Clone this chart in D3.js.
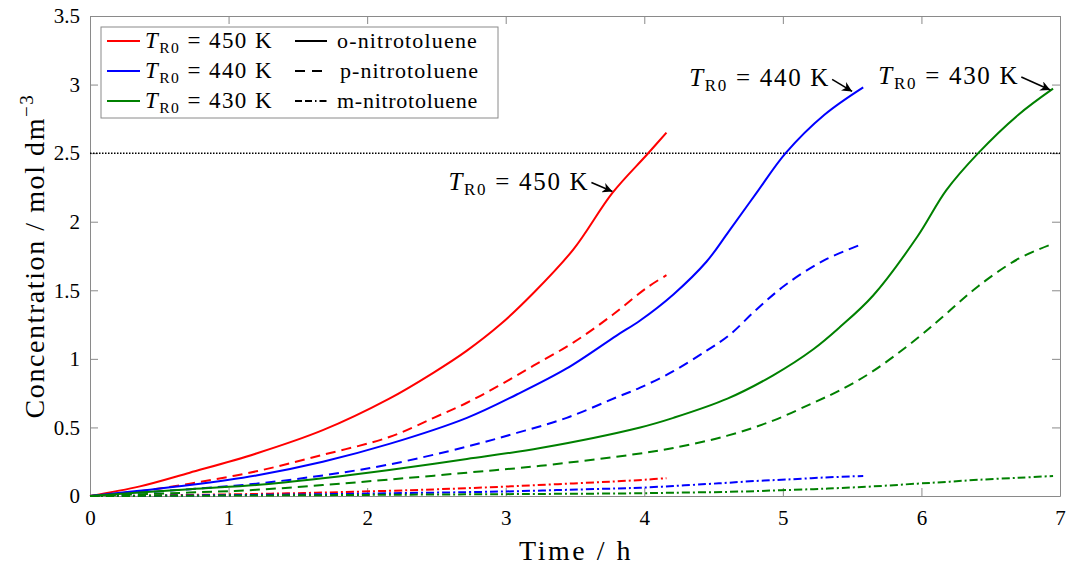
<!DOCTYPE html>
<html><head><meta charset="utf-8">
<script src="https://cdn.jsdelivr.net/npm/d3@7"></script>
<style>
body{margin:0;background:#fff;}
text{font-family:"Liberation Serif","DejaVu Serif",serif;fill:#000;}
</style></head>
<body><svg id="c" width="1070" height="571"></svg>
<script>
// ---- data ----
const xTicks = [0,1,2,3,4,5,6,7];
const yTicks = [0,0.5,1,1.5,2,2.5,3,3.5];
const yTickLabels = ["0","0.5","1","1.5","2","2.5","3","3.5"];
const threshold = 2.5;

const t450 = [0,0.36,0.72,1.2,1.68,2.16,2.48,2.72,2.96,3.2,3.49,3.77,4.02,4.16];
const o450 = [0,0.07,0.17,0.31,0.48,0.71,0.90,1.06,1.25,1.48,1.80,2.21,2.49,2.65];
const p450 = [0,0.035,0.09,0.18,0.30,0.43,0.57,0.68,0.81,0.95,1.12,1.32,1.52,1.61];
const m450 = [0,0.003,0.008,0.015,0.025,0.038,0.048,0.057,0.067,0.078,0.092,0.105,0.12,0.13];

const t440 = [0,0.72,1.2,1.68,2.16,2.72,3.08,3.44,3.80,3.97,4.21,4.45,4.61,4.81,5.02,5.3,5.58];
const o440 = [0,0.08,0.15,0.25,0.38,0.57,0.74,0.93,1.17,1.28,1.47,1.71,1.93,2.21,2.50,2.78,2.98];
const p440 = [0,0.05,0.09,0.15,0.23,0.36,0.46,0.57,0.72,0.79,0.91,1.06,1.17,1.36,1.54,1.72,1.84];
const m440 = [0,0.004,0.008,0.013,0.02,0.028,0.035,0.045,0.055,0.06,0.073,0.087,0.097,0.11,0.12,0.135,0.146];

const t430 = [0,0.72,1.2,1.68,2.16,2.72,3.25,3.97,4.21,4.60,4.93,5.22,5.41,5.65,5.97,6.18,6.41,6.7,6.95];
const o430 = [0,0.05,0.08,0.13,0.19,0.27,0.35,0.50,0.57,0.71,0.88,1.07,1.23,1.46,1.89,2.23,2.50,2.78,2.97];
const p430 = [0,0.025,0.045,0.08,0.12,0.17,0.22,0.31,0.35,0.44,0.55,0.68,0.77,0.91,1.15,1.33,1.53,1.73,1.84];
const m430 = [0,0.002,0.004,0.006,0.009,0.012,0.015,0.02,0.024,0.03,0.04,0.05,0.058,0.07,0.09,0.103,0.118,0.133,0.146];

const temps = ["450","440","430"];
const tempColors = ["#ff0000","#0000ff","#008000"];
const species = ["o-nitrotoluene","p-nitrotoluene","m-nitrotoluene"];
const dashes = [null,"10,6","8,3,2,3"];

const seriesT = [t450,t440,t430];
const seriesV = [[o450,p450,m450],[o440,p440,m440],[o430,p430,m430]];

// ---- layout ----
const svg = d3.select("#c");
const L=90, R=1060, T=16, B=496;
const x = d3.scaleLinear().domain([0,7]).range([L,R]);
const y = d3.scaleLinear().domain([0,3.5]).range([B,T]);
const axisCol = "#8a8a8a";

function fit(sel, target){
  const n = sel.node();
  const w = n.getComputedTextLength();
  const chars = n.textContent.length;
  sel.attr("letter-spacing", ((target - w) / chars).toFixed(2));
  return sel;
}

svg.append("defs").append("marker").attr("id","ah").attr("viewBox","0 0 10 10")
  .attr("refX",10).attr("refY",5).attr("markerWidth",10).attr("markerHeight",10)
  .attr("markerUnits","userSpaceOnUse").attr("orient","auto")
  .append("path").attr("d","M0,0 L10,5 L0,10 L3,5 Z").attr("fill","#000");

// axes (box with inward ticks)
const gx = svg.append("g").attr("transform",`translate(0,${B})`)
  .call(d3.axisBottom(x).tickValues(xTicks).tickSizeInner(-8).tickSizeOuter(0).tickPadding(14).tickFormat(d3.format("d")));
const gxt = svg.append("g").attr("transform",`translate(0,${T})`)
  .call(d3.axisTop(x).tickValues(xTicks).tickSizeInner(-8).tickSizeOuter(0).tickFormat(""));
const gy = svg.append("g").attr("transform",`translate(${L},0)`)
  .call(d3.axisLeft(y).tickValues(yTicks).tickSizeInner(-8).tickSizeOuter(0).tickPadding(9).tickFormat((d,i)=>yTickLabels[i]));
const gyr = svg.append("g").attr("transform",`translate(${R},0)`)
  .call(d3.axisRight(y).tickValues(yTicks).tickSizeInner(-8).tickSizeOuter(0).tickFormat(""));
[gx,gxt,gy,gyr].forEach(g=>{
  g.select(".domain").attr("stroke",axisCol).attr("stroke-width",1);
  g.selectAll(".tick line").attr("stroke",axisCol);
  g.selectAll(".tick text").attr("font-size",21).attr("font-family","Liberation Serif, serif").attr("fill","#222");
});
gy.selectAll(".tick text").attr("dx",-1);

// threshold
svg.append("line").attr("x1",x(0)).attr("x2",x(7)).attr("y1",y(threshold)).attr("y2",y(threshold))
  .attr("stroke","#000").attr("stroke-width",1.5).attr("stroke-dasharray","1.5,1.5");

// curves
const line = d3.line().curve(d3.curveCatmullRom.alpha(0.5));
seriesT.forEach((ts,i)=>{
  seriesV[i].forEach((vs,j)=>{
    svg.append("path")
      .attr("d", line(ts.map((t,k)=>[x(t),y(vs[k])])))
      .attr("fill","none").attr("stroke",tempColors[i]).attr("stroke-width",2)
      .attr("stroke-dasharray",dashes[j]);
  });
});

// T_R0 label
function tLabel(g, xx, yy, temp, size, anchor){
  const tx = g.append("text").attr("x",xx).attr("y",yy).attr("text-anchor",anchor).attr("font-size",size);
  tx.append("tspan").attr("font-style","italic").text("T");
  tx.append("tspan").attr("font-size",size*0.68).attr("dy",5).text("R0");
  tx.append("tspan").attr("dy",-5).text(" = " + temp + " K");
  return tx;
}
const annos = [
  {temp:"450", tip:[3.77,2.22], dx:-21, dy:-9},
  {temp:"440", tip:[5.50,2.95], dx:-20, dy:-12},
  {temp:"430", tip:[6.93,2.96], dx:-29, dy:-13}
];
annos.forEach(a=>{
  const px=x(a.tip[0]), py=y(a.tip[1]);
  svg.append("line").attr("x1",px+a.dx).attr("y1",py+a.dy).attr("x2",px).attr("y2",py)
    .attr("stroke","#000").attr("stroke-width",1.6).attr("marker-end","url(#ah)");
  const tx = tLabel(svg, px+a.dx-143, py+a.dy+7, a.temp, 25, "start");
  fit(tx, 141);
});

// axis titles
fit(svg.append("text").attr("x",(L+R)/2 + 1).attr("y",560).attr("text-anchor","middle").attr("font-size",28).text("Time / h"), 114);
const yl = svg.append("text").attr("transform",`translate(44,${(T+B)/2}) rotate(-90)`).attr("text-anchor","middle").attr("font-size",28);
yl.append("tspan").text("Concentration / mol dm");
yl.append("tspan").attr("font-size",19).attr("dy",-11).text("−3");
fit(yl, 325);

// legend
const lg = svg.append("g");
lg.append("rect").attr("x",101).attr("y",27).attr("width",397).attr("height",91)
  .attr("fill","#fff").attr("stroke",axisCol).attr("stroke-width",1);
const rows=[48,78,108];
temps.forEach((tp,i)=>{
  lg.append("line").attr("x1",107).attr("x2",140).attr("y1",rows[i]-7).attr("y2",rows[i]-7)
    .attr("stroke",tempColors[i]).attr("stroke-width",2);
  fit(tLabel(lg, 145, rows[i], tp, 23, "start"), 128);
});
const legDash = [null,"10,7","7,3,7,3,1.5,3"];
species.forEach((s,j)=>{
  lg.append("line").attr("x1",295).attr("x2",j===1?325:327).attr("y1",rows[j]-7).attr("y2",rows[j]-7)
    .attr("stroke","#000").attr("stroke-width",2).attr("stroke-dasharray",legDash[j]);
  fit(lg.append("text").attr("x",j===1?340:337).attr("y",rows[j]).attr("font-size",22).text(s), j===1?139:141);
});
</script></body></html>
